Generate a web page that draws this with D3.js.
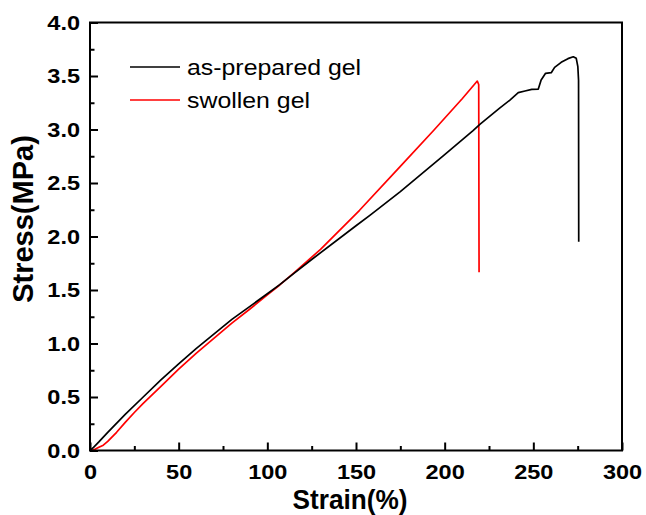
<!DOCTYPE html>
<html>
<head>
<meta charset="utf-8">
<script src="https://cdn.jsdelivr.net/npm/d3@7/dist/d3.min.js"></script>
<style>
html,body{margin:0;padding:0;background:#fff;}
svg{display:block;}
</style>
</head>
<body>
<svg id="chart" width="646" height="515"></svg>
<script>
// Series names
const seriesNames = ["as-prepared gel", "swollen gel"];
const seriesColors = ["#000000", "#ff0000"];

// as-prepared gel: strain (%)
const asPreparedStrain = [0, 2, 5, 10, 20, 30, 40, 50, 60, 70, 80, 90, 100, 107, 115, 125, 150, 158, 175, 200, 216, 220, 231, 236.8, 241.5, 245.3, 249.1, 252.8, 254.4, 256.9, 260.1, 262, 265.7, 269.5, 272.5, 274.2, 275.1, 275.5, 275.6];
// as-prepared gel: stress (MPa)
const asPreparedStress = [0, 0.03, 0.08, 0.17, 0.34, 0.5, 0.66, 0.81, 0.955, 1.09, 1.225, 1.345, 1.465, 1.55, 1.655, 1.785, 2.1, 2.2, 2.42, 2.765, 2.99, 3.05, 3.2, 3.275, 3.344, 3.36, 3.375, 3.378, 3.463, 3.525, 3.531, 3.581, 3.628, 3.662, 3.68, 3.665, 3.587, 3.46, 1.95];

// swollen gel: strain (%)
const swollenStrain = [0, 2, 5, 7.5, 10, 15, 20, 25, 30, 40, 50, 60, 70, 80, 90, 100, 107, 115, 130, 152, 175, 194, 210, 218.4, 219.2, 219.4];
// swollen gel: stress (MPa)
const swollenStress = [0, 0.005, 0.03, 0.05, 0.085, 0.17, 0.265, 0.355, 0.44, 0.6, 0.76, 0.91, 1.05, 1.19, 1.32, 1.455, 1.547, 1.66, 1.88, 2.245, 2.655, 2.995, 3.29, 3.453, 3.42, 1.665];

// Ticks
const xTicks = [0, 50, 100, 150, 200, 250, 300];
const xMinorTicks = [25, 75, 125, 175, 225, 275];
const yTicks = [0, 0.5, 1.0, 1.5, 2.0, 2.5, 3.0, 3.5, 4.0];
const yMinorTicks = [0.25, 0.75, 1.25, 1.75, 2.25, 2.75, 3.25, 3.75];

const xTitle = "Strain(%)";
const yTitle = "Stress(MPa)";

const svg = d3.select("#chart");
const L = 90, R = 622, T = 22.5, B = 450.5;

const x = d3.scaleLinear().domain([0, 300]).range([L, R]);
const y = d3.scaleLinear().domain([0, 4]).range([B, T]);

const font = "'Liberation Sans', Arial, sans-serif";

// widen text horizontally (reference glyphs are slightly stretched)
function widen(sel, f) {
  sel.each(function() {
    const w = this.getComputedTextLength();
    d3.select(this).attr("textLength", w * f).attr("lengthAdjust", "spacingAndGlyphs");
  });
}

// curves
const line = d3.line().x(d => x(d[0])).y(d => y(d[1]));
const seriesData = [
  d3.zip(asPreparedStrain, asPreparedStress),
  d3.zip(swollenStrain, swollenStress)
];
[1, 0].forEach(i => {
  svg.append("path")
    .datum(seriesData[i])
    .attr("d", line)
    .attr("fill", "none")
    .attr("stroke", seriesColors[i])
    .attr("stroke-width", 1.7)
    .attr("stroke-linejoin", "round");
});

// frame
svg.append("rect")
  .attr("x", L).attr("y", T)
  .attr("width", R - L).attr("height", B - T)
  .attr("fill", "none").attr("stroke", "#000").attr("stroke-width", 2);

// bottom axis
const xAxis = d3.axisBottom(x).tickValues(xTicks).tickSize(-8).tickPadding(14).tickFormat(d3.format("d"));
const gx = svg.append("g").attr("transform", `translate(0,${B})`).call(xAxis);
gx.select(".domain").remove();
gx.selectAll(".tick line").attr("stroke", "#000").attr("stroke-width", 2);
gx.selectAll(".tick text").attr("font-family", font).attr("font-weight", "bold").attr("font-size", 21).attr("fill", "#000");
widen(gx.selectAll(".tick text"), 1.12);
const xMinor = d3.axisBottom(x).tickValues(xMinorTicks).tickSize(-4.5).tickFormat("");
const gxm = svg.append("g").attr("transform", `translate(0,${B})`).call(xMinor);
gxm.select(".domain").remove();
gxm.selectAll(".tick line").attr("stroke", "#000").attr("stroke-width", 2);

// left axis
const yAxis = d3.axisLeft(y).tickValues(yTicks).tickSize(-8).tickPadding(10).tickFormat(d3.format(".1f"));
const gy = svg.append("g").attr("transform", `translate(${L},0)`).call(yAxis);
gy.select(".domain").remove();
gy.selectAll(".tick line").attr("stroke", "#000").attr("stroke-width", 2);
gy.selectAll(".tick text").attr("font-family", font).attr("font-weight", "bold").attr("font-size", 21).attr("fill", "#000");
widen(gy.selectAll(".tick text"), 1.12);
const yMinor = d3.axisLeft(y).tickValues(yMinorTicks).tickSize(-4.5).tickFormat("");
const gym = svg.append("g").attr("transform", `translate(${L},0)`).call(yMinor);
gym.select(".domain").remove();
gym.selectAll(".tick line").attr("stroke", "#000").attr("stroke-width", 2);

// axis titles
svg.append("text")
  .attr("x", 350).attr("y", 509)
  .attr("text-anchor", "middle")
  .attr("font-family", font).attr("font-weight", "bold").attr("font-size", 27)
  .attr("textLength", 115).attr("lengthAdjust", "spacingAndGlyphs")
  .text(xTitle);
svg.append("text")
  .attr("transform", `translate(33,219) rotate(-90)`)
  .attr("text-anchor", "middle")
  .attr("font-family", font).attr("font-weight", "bold").attr("font-size", 29)
  .text(yTitle);

// legend
const legY = [67, 100];
seriesNames.forEach((name, i) => {
  svg.append("line")
    .attr("x1", 130).attr("x2", 180)
    .attr("y1", legY[i]).attr("y2", legY[i])
    .attr("stroke", seriesColors[i]).attr("stroke-width", 1.7);
  const t = svg.append("text")
    .attr("x", 187).attr("y", legY[i] + 8)
    .attr("font-family", font).attr("font-size", 22)
    .attr("fill", "#000")
    .text(name);
  widen(t, 1.13);
});
</script>
</body>
</html>
